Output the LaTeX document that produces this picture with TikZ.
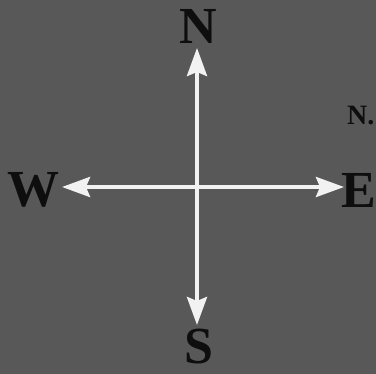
\documentclass[tikz,border=0pt]{standalone}
\usepackage{fontspec}
\setmainfont{Liberation Serif}
\usetikzlibrary{arrows.meta}
\definecolor{bg}{HTML}{585858}
\definecolor{ink}{HTML}{0E0E0E}
\definecolor{arr}{HTML}{F2F2F2}
\tikzset{
  letter/.style={text=ink,font=\fontsize{52}{52}\selectfont\bfseries,inner sep=0pt},
  small/.style={text=ink,font=\fontsize{28}{28}\selectfont\bfseries,inner sep=0pt},
  compass/.style={draw=arr,line width=4pt,{Stealth[length=28pt,width=20pt,inset=4pt]}-{Stealth[length=28pt,width=20pt,inset=4pt]}}
}
\begin{document}
\begin{tikzpicture}[x=1pt,y=-1pt]
\useasboundingbox (0,0) rectangle (376,374);
\clip (0,0) rectangle (376,374);
\fill[bg] (0,0) rectangle (376,374);
\node[letter] (n) at (198,26) {N};
\node[letter] (s) at (199,347) {S};
\node[letter] (w) at (34,190) {W};
\node[letter,anchor=west] (e) at (341,190) {E};
\node[small,anchor=west] (n2) at (347,116) {N.};
\coordinate (top) at (197,48);
\coordinate (bot) at (197,325);
\coordinate (lft) at (62,187);
\coordinate (rgt) at (344,187);
\draw[compass] (bot) -- (top);
\draw[compass] (lft) -- (rgt);
\end{tikzpicture}
\end{document}
